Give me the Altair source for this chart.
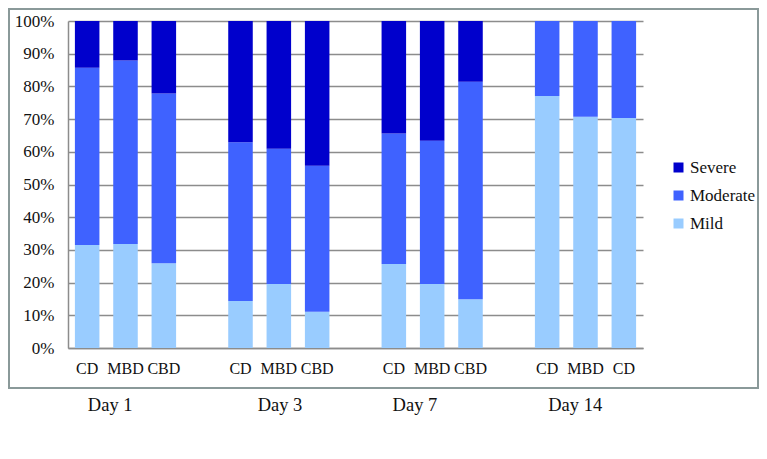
import altair as alt
import pandas as pd

days = ["Day 1", "Day 3", "Day 7", "Day 14"]
groups = [["CD", "MBD", "CBD"], ["CD", "MBD", "CBD"], ["CD", "MBD", "CBD"], ["CD", "MBD", "CD"]]
mild = [31.5, 31.8, 25.9, 14.4, 19.6, 11.1, 25.7, 19.6, 14.9, 77.1, 70.7, 70.3]
moderate = [54.2, 56.1, 51.9, 48.5, 41.3, 44.6, 39.9, 43.8, 66.5, 22.9, 29.3, 29.7]
severe = [14.3, 12.1, 22.2, 37.1, 39.1, 44.3, 34.4, 36.6, 18.6, 0.0, 0.0, 0.0]
severity = ["Severe", "Moderate", "Mild"]
colors = ["#0000CC", "#3F62FF", "#99CCFF"]
day_label_pos = [1.1, 5.53, 9.05, 13.23]

FONT = "Liberation Serif"

# build slot domain (with empty gap slots between days)
domain = []
rows = []
k = 0
for i, day in enumerate(days):
    for j, name in enumerate(groups[i]):
        key = f"{i}{j}|{name}"
        domain.append(key)
        rows.append({"slot": key, "sev": "Mild", "ord": 0, "v": mild[k]})
        rows.append({"slot": key, "sev": "Moderate", "ord": 1, "v": moderate[k]})
        rows.append({"slot": key, "sev": "Severe", "ord": 2, "v": severe[k]})
        k += 1
    if i < len(days) - 1:
        domain.append(f"gap{i}|")
df = pd.DataFrame(rows)

bars = alt.Chart(df).mark_bar().encode(
    x=alt.X("slot:N", scale=alt.Scale(domain=domain, paddingInner=0.36, paddingOuter=0.18),
            sort=domain,
            axis=alt.Axis(title=None, labelAngle=0, ticks=False, labelPadding=12,
                          labelExpr="split(datum.label, '|')[1]",
                          domainColor="#8c8c8c", domainWidth=1.5,
                          labelFont=FONT, labelFontSize=16, labelColor="#111")),
    y=alt.Y("v:Q", stack=True, scale=alt.Scale(domain=[0, 100], nice=False),
            axis=alt.Axis(title=None, values=list(range(0, 101, 10)), ticks=False,
                          labelExpr="datum.value + '%'", labelPadding=14,
                          grid=True, gridColor="#8c8c8c", gridWidth=1.5,
                          domainColor="#8c8c8c", domainWidth=1.5,
                          labelFont=FONT, labelFontSize=17, labelColor="#111")),
    color=alt.Color("sev:N", scale=alt.Scale(domain=severity, range=colors),
                    legend=alt.Legend(title=None, orient="none", legendX=602, legendY=138,
                                      symbolType="square", symbolSize=100,
                                      symbolStrokeWidth=0, labelFont=FONT,
                                      labelFontSize=17, labelColor="#111",
                                      rowPadding=10, labelOffset=3)),
    order=alt.Order("ord:Q"),
)

border = alt.Chart(pd.DataFrame({"a": [0]})).mark_rect(
    fillOpacity=0, stroke="#8a9999", strokeWidth=2
).encode(
    x=alt.value(-59), x2=alt.value(690), y=alt.value(-12), y2=alt.value(367)
)

labels = alt.Chart(pd.DataFrame({"day": days, "pos": day_label_pos})).mark_text(
    font=FONT, fontSize=18.5, baseline="middle", color="#111"
).encode(
    x=alt.X("pos:Q", scale=alt.Scale(domain=[0, 15], nice=False, zero=False), axis=None),
    y=alt.value(384),
    text="day:N",
)

chart = alt.layer(bars, border, labels).resolve_scale(x="independent").properties(
    width=575, height=327,
    autosize=alt.AutoSizeParams(type="none"),
    padding={"left": 60, "top": 13, "right": 116, "bottom": 103},
).configure_view(strokeWidth=0).configure_legend(
    labelFont=FONT, labelFontSize=17, labelColor="#111"
)

chart.save("out.html", embed_options={"renderer": "svg", "actions": False})
